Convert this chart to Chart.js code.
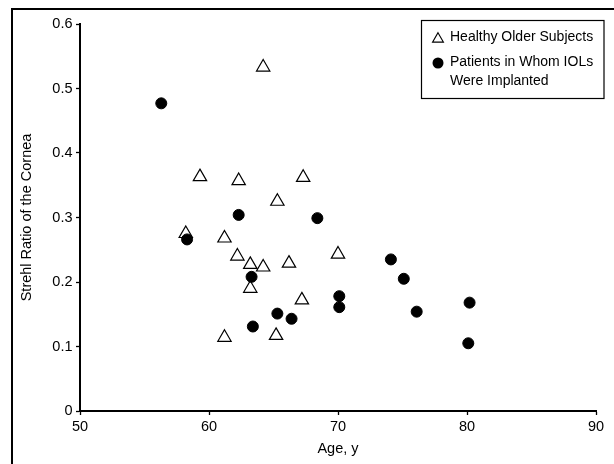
<!DOCTYPE html>
<html>
<head>
<meta charset="utf-8">
<script src="https://cdn.jsdelivr.net/npm/chart.js@4.4.1/dist/chart.umd.min.js"></script>
<style>
  html, body { margin: 0; padding: 0; background: #fff; overflow: hidden; }
  #frame { position: absolute; left: 11px; top: 8px; width: 700px; height: 600px;
           border-left: 2px solid #000; border-top: 2px solid #000; }
  #mixedChart { position: absolute; left: 0; top: 0; }
</style>
</head>
<body>
<div id="frame"></div>
<canvas id="mixedChart" width="614" height="464"></canvas>
<script>
// healthy older subjects (triangles)
var healthyAge    = [64.2, 59.3, 62.3, 67.3, 65.3, 58.2, 61.2, 62.2, 63.2, 64.2, 66.2, 70.0, 63.2, 67.2, 61.2, 65.2];
var healthyStrehl = [0.533, 0.363, 0.357, 0.362, 0.325, 0.275, 0.268, 0.240, 0.227, 0.223, 0.229, 0.243, 0.190, 0.172, 0.114, 0.117];

// patients in whom IOLs were implanted (filled circles)
var iolAge    = [56.3, 58.3, 62.3, 68.4, 63.3, 74.1, 75.1, 70.1, 70.1, 80.2, 76.1, 65.3, 66.4, 63.4, 80.1];
var iolStrehl = [0.477, 0.266, 0.304, 0.299, 0.208, 0.235, 0.205, 0.178, 0.161, 0.168, 0.154, 0.151, 0.143, 0.131, 0.105];

var xTicks = [50, 60, 70, 80, 90];
var yTicks = [0, 0.1, 0.2, 0.3, 0.4, 0.5, 0.6];

var legendLabels = [["Healthy Older Subjects"], ["Patients in Whom IOLs", "Were Implanted"]];

var FONT = "'Liberation Sans', Arial, sans-serif";

function toPoints(xs, ys) {
  return xs.map(function (x, i) { return { x: x, y: ys[i] }; });
}

// legend box drawn by hand (two-line entry)
var boxLegend = {
  id: 'boxLegend',
  afterDraw: function (chart) {
    var ctx = chart.ctx;
    ctx.save();
    ctx.strokeStyle = '#000';
    ctx.lineWidth = 1.2;
    ctx.strokeRect(421.5, 20.5, 182.5, 78);

    // triangle marker
    ctx.beginPath();
    var cx = 438, cy = 39, r = 6.3;
    for (var k = 0; k < 3; k++) {
      var a = -Math.PI / 2 + k * 2 * Math.PI / 3;
      var px = cx + Math.cos(a) * r, py = cy + Math.sin(a) * r;
      if (k === 0) ctx.moveTo(px, py); else ctx.lineTo(px, py);
    }
    ctx.closePath();
    ctx.fillStyle = '#fff';
    ctx.fill();
    ctx.lineWidth = 1.1;
    ctx.stroke();

    // circle marker
    ctx.beginPath();
    ctx.arc(438, 63, 5.5, 0, Math.PI * 2);
    ctx.fillStyle = '#000';
    ctx.fill();

    ctx.fillStyle = '#000';
    ctx.font = '14px ' + FONT;
    ctx.textBaseline = 'middle';
    ctx.textAlign = 'left';
    ctx.fillText(legendLabels[0][0], 450, 37.5);
    ctx.fillText(legendLabels[1][0], 450, 62.5);
    ctx.fillText(legendLabels[1][1], 450, 81.5);
    ctx.restore();
  }
};

var ctx = document.getElementById('mixedChart').getContext('2d');
var myChart = new Chart(ctx, {
  type: 'scatter',
  data: {
    datasets: [{
      label: 'Patients in Whom IOLs Were Implanted',
      data: toPoints(iolAge, iolStrehl),
      pointStyle: 'circle',
      pointRadius: 5.5,
      pointHoverRadius: 5.5,
      backgroundColor: '#000',
      borderColor: '#000',
      borderWidth: 1,
      order: 0
    },
    {
      label: 'Healthy Older Subjects',
      data: toPoints(healthyAge, healthyStrehl),
      pointStyle: 'triangle',
      pointRadius: 7.7,
      pointHoverRadius: 7.7,
      backgroundColor: '#fff',
      borderColor: '#000',
      borderWidth: 1.2,
      order: 1
    }]
  },
  options: {
    responsive: false,
    animation: false,
    events: [],
    layout: { padding: { top: 24, right: 18, left: 0, bottom: 0 } },
    plugins: {
      legend: { display: false },
      tooltip: { enabled: false }
    },
    scales: {
      x: {
        type: 'linear',
        min: 50,
        max: 90,
        afterBuildTicks: function (scale) {
          scale.ticks = xTicks.map(function (v) { return { value: v }; });
        },
        afterFit: function (scale) { scale.height = 53; },
        ticks: { color: '#000', font: { family: FONT, size: 14.5 }, padding: 3, maxRotation: 0 },
        grid: { drawOnChartArea: false, tickLength: 4, tickColor: '#000', tickWidth: 1.3 },
        border: { color: '#000', width: 2 },
        title: { display: true, text: 'Age, y', color: '#000',
                 font: { family: FONT, size: 14.5 }, padding: { top: 0, bottom: 6 } }
      },
      y: {
        min: 0,
        max: 0.6,
        afterBuildTicks: function (scale) {
          scale.ticks = yTicks.map(function (v) { return { value: v }; });
        },
        afterFit: function (scale) { scale.width = 80; },
        ticks: {
          color: '#000', font: { family: FONT, size: 14.5 }, padding: 3.5,
          callback: function (v) { return String(+v.toFixed(1)); }
        },
        grid: { drawOnChartArea: false, tickLength: 4, tickColor: '#000', tickWidth: 1.3 },
        border: { color: '#000', width: 2 },
        title: { display: true, text: 'Strehl Ratio of the Cornea', color: '#000',
                 font: { family: FONT, size: 14.5 }, padding: { top: 18, bottom: 0 } }
      }
    }
  },
  plugins: [boxLegend]
});
</script>
</body>
</html>
